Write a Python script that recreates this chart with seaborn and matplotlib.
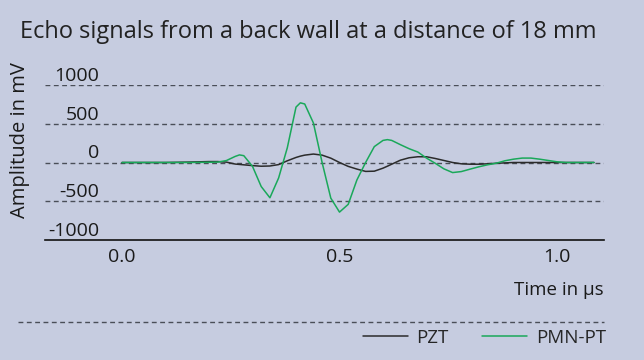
import numpy as np
import pandas as pd
import seaborn as sns
import matplotlib.pyplot as plt
from matplotlib.lines import Line2D

# Echo signal data
time_us = [0.00, 0.05, 0.10, 0.15, 0.20, 0.22, 0.24, 0.26, 0.27, 0.28,
           0.30, 0.32, 0.34, 0.36, 0.38, 0.40, 0.41, 0.42, 0.44, 0.46,
           0.48, 0.50, 0.52, 0.54, 0.56, 0.58, 0.60, 0.61, 0.62, 0.64,
           0.66, 0.68, 0.70, 0.72, 0.74, 0.76, 0.78, 0.80, 0.82, 0.84,
           0.86, 0.88, 0.90, 0.92, 0.94, 0.96, 0.98, 1.00, 1.02, 1.05, 1.085]
pzt_mv = [0, 0, 0, 5, 12, 12, 5, -20, -25, -30,
          -40, -48, -45, -27, 22, 65, 82, 95, 109, 95,
          56, 0, -50, -85, -115, -112, -73, -48, -22, 30,
          61, 74, 74, 52, 26, 0, -17, -22, -22, -17,
          -10, -5, 0, 0, 0, 0, 0, 0, 0, 0, 0]
pmn_pt_mv = [0, 0, 0, 0, 3, 5, 25, 78, 98, 88,
             -50, -310, -455, -200, 190, 715, 770, 755, 510, 0,
             -460, -640, -540, -225, 0, 205, 285, 295, 285, 230,
             178, 135, 57, -10, -82, -130, -117, -86, -56, -30,
             -10, 22, 43, 57, 57, 43, 26, 9, 0, 0, 0]

series_names = ["PZT", "PMN-PT"]
series_colors = ["#2b2b2b", "#1aa85a"]
y_ticks = [-1000, -500, 0, 500, 1000]
x_ticks = [0.0, 0.5, 1.0]

bg = "#c6cce0"

sns.set_style("white")
plt.rcParams["font.family"] = ["Open Sans", "DejaVu Sans"]

df = pd.DataFrame({
    "time": time_us * 2,
    "amp": pzt_mv + pmn_pt_mv,
    "material": ["PZT"] * len(time_us) + ["PMN-PT"] * len(time_us),
})

fig = plt.figure(figsize=(6.44, 3.6), dpi=100, facecolor=bg)
ax = fig.add_axes([45 / 644, 1 - 240 / 360, 559 / 644, 155 / 360])
ax.set_facecolor(bg)

sns.lineplot(data=df, x="time", y="amp", hue="material",
             hue_order=series_names, palette=series_colors,
             linewidth=1.1, ax=ax, legend=False)

ax.set_xlim(-0.177, 1.108)
ax.set_ylim(-1000, 1000)

# dashed horizontal grid
for v in y_ticks[1:]:
    ax.axhline(v, color="#4a4e58", lw=1.0, ls=(0, (3.5, 2.5)), zorder=0)

ax.set_yticks(y_ticks)
ax.set_yticklabels([str(v) for v in y_ticks], fontsize=14, color="#1a1a1a")
for lbl in ax.get_yticklabels():
    lbl.set_verticalalignment("bottom")
ax.tick_params(axis="y", length=0, pad=-39)

ax.set_xticks(x_ticks)
ax.set_xticklabels([f"{v:.1f}" for v in x_ticks], fontsize=14, color="#1a1a1a")
ax.tick_params(axis="x", length=0, pad=6)

for s in ["top", "right", "left"]:
    ax.spines[s].set_visible(False)
ax.spines["bottom"].set_color("#111111")
ax.spines["bottom"].set_linewidth(1.2)
ax.set_xlabel("")
ax.set_ylabel("")

fig.text(20 / 644, 1 - 32 / 360, "Echo signals from a back wall at a distance of 18 mm",
         fontsize=17, color="#222222", ha="left", va="center")
fig.text(20 / 644, 1 - 140 / 360, "Amplitude in mV", rotation=90,
         fontsize=14.5, color="#1a1a1a", ha="center", va="center")
fig.text(604 / 644, 1 - 290 / 360, "Time in µs", fontsize=13.5,
         color="#1a1a1a", ha="right", va="center")

# separator line above legend
fig.add_artist(Line2D([18 / 644, 604 / 644], [1 - 322 / 360, 1 - 322 / 360],
                      color="#4a4e58", lw=1.0, ls=(0, (3.5, 2.5))))

handles = [Line2D([], [], color=c, lw=1.1) for c in series_colors]
fig.legend(handles, series_names, loc="center right",
           bbox_to_anchor=(606 / 644, 1 - 338 / 360), ncol=2, frameon=False,
           fontsize=13.5, handlelength=2.4, handletextpad=0.45, columnspacing=1.8,
           borderaxespad=0, borderpad=0)

fig.savefig("out.png", dpi=100, facecolor=bg)
